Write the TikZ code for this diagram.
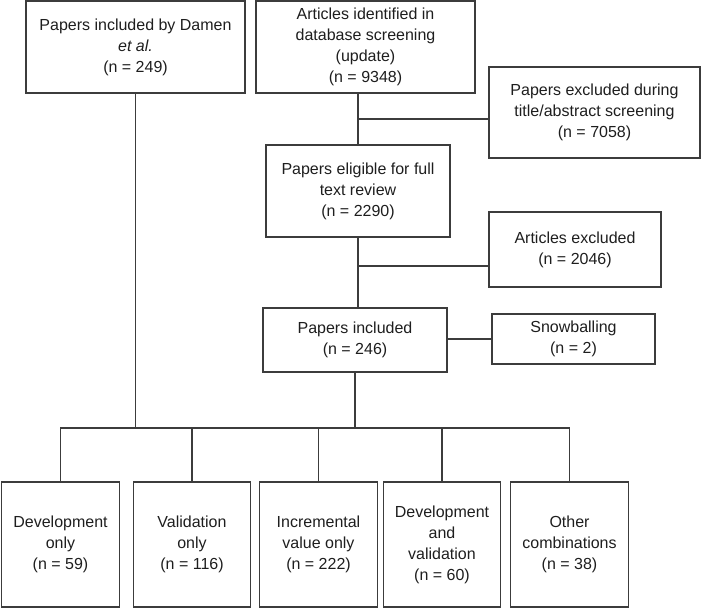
\documentclass[tikz,border=0pt]{standalone}
\usepackage{fontspec}
\setmainfont{Liberation Sans}
\usepackage{tikz}
\definecolor{linegray}{RGB}{60,60,60}
\definecolor{textgray}{RGB}{30,30,30}
\tikzset{
  box/.style={draw=linegray, line width=0.8pt, align=center, inner sep=0pt, text=textgray, font=\fontsize{12}{15.75}\selectfont},
  link/.style={draw=linegray, line width=0.8pt},
  result/.style={box, minimum width=88pt, minimum height=93.75pt}
}
\begin{document}
\begin{tikzpicture}[x=0.75pt,y=-0.75pt]
			\useasboundingbox (0,0) rectangle (702,609);
			\node[box, minimum width=164.25pt, minimum height=69pt] (damen) at (135.5,47) {Papers included by Damen\\ \textit{et al.}\\ (n = 249)};
			\node[box, minimum width=164.25pt, minimum height=69pt] (ident) at (365.5,47) {Articles identified in\\ database screening\\ (update)\\ (n = 9348)};
			\node[box, minimum width=158.25pt, minimum height=68.25pt] (titleexcl) at (594.5,112.5) {Papers excluded during\\ title/abstract screening\\ (n = 7058)};
			\node[box, minimum width=138pt, minimum height=69pt] (eligible) at (358,191) {Papers eligible for full\\ text review\\ (n = 2290)};
			\node[box, minimum width=129pt, minimum height=56.25pt] (fullexcl) at (575,249.5) {Articles excluded\\ (n = 2046)};
			\node[box, minimum width=138pt, minimum height=48pt] (included) at (355,340) {Papers included\\ (n = 246)};
			\node[box, minimum width=122.25pt, minimum height=37.5pt] (snowball) at (573.5,339) {Snowballing\\ (n = 2)};
			
			% outcome categories
			\node[result] (devonly) at (60.5,544.5) {Development\\ only\\ (n = 59)};
			\node[result] (valonly) at (192,544.5) {Validation\\ only\\ (n = 116)};
			\node[result] (incronly) at (318.5,544.5) {Incremental\\ value only\\ (n = 222)};
			\node[result] (devval) at (442,544.5) {Development\\ and\\ validation\\ (n = 60)};
			\node[result] (othercomb) at (569.5,544.5) {Other\\ combinations\\ (n = 38)};
			
			\coordinate (split1) at (358,119);
			\coordinate (split2) at (358,266);
			\coordinate (bar) at (355,428);
			
			\draw[link] (ident.south -| eligible.north) -- (eligible.north);
			\draw[link] (split1) -- (split1 -| titleexcl.west);
			\draw[link] (eligible.south) -- (included.north -| eligible.south);
			\draw[link] (split2) -- (split2 -| fullexcl.west);
			\draw[link] (included.east) -- (snowball.west -| included.east) -- (snowball.west);
			\draw[link] (damen.south) -- (damen.south |- bar);
			\draw[link] (included.south) -- (bar);
			\draw[link] (devonly.north) -- (devonly.north |- bar) -- (othercomb.north |- bar) -- (othercomb.north);
			\draw[link] (valonly.north) -- (valonly.north |- bar);
			\draw[link] (incronly.north) -- (incronly.north |- bar);
			\draw[link] (devval.north) -- (devval.north |- bar);
		\end{tikzpicture}
\end{document}
